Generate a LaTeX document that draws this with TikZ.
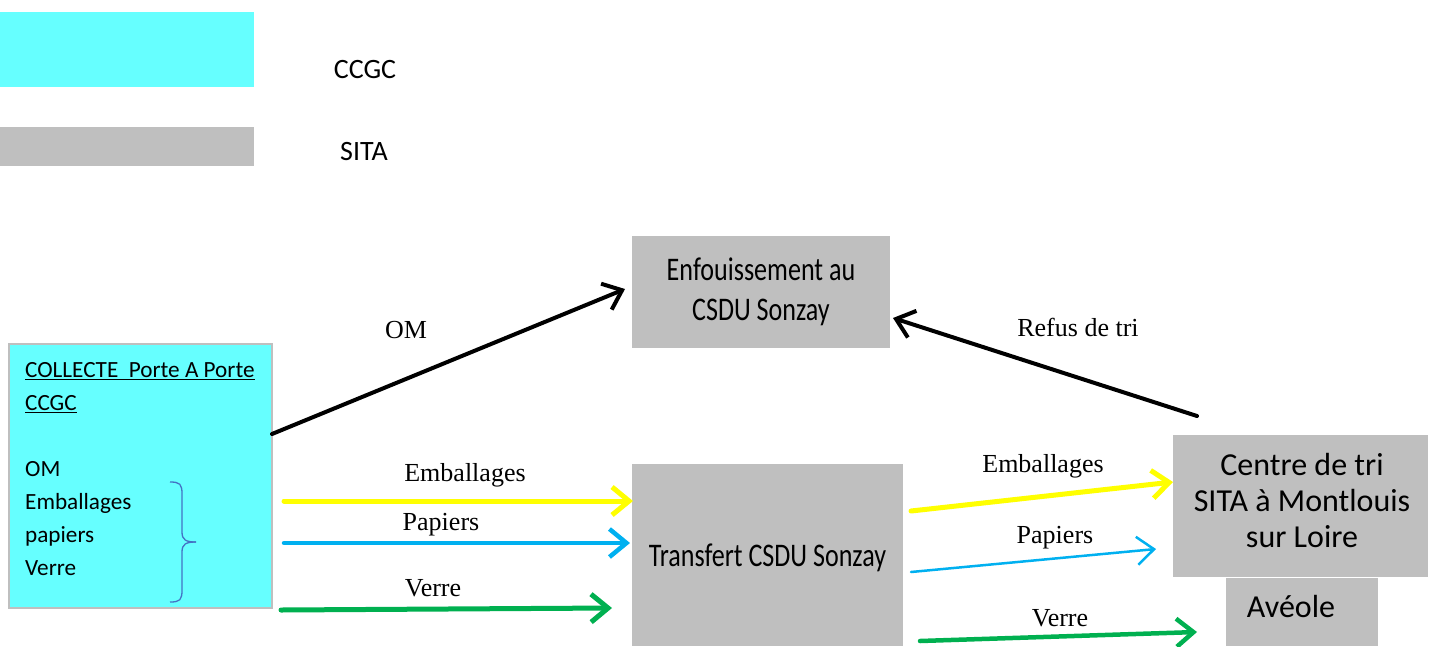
\documentclass[tikz,border=0pt]{standalone}
\usepackage{fontspec}
\usepackage{graphicx}
\setmainfont{Liberation Serif}
\newfontfamily\calfont{Carlito}
\usetikzlibrary{arrows.meta,calc}
\definecolor{cyanbox}{HTML}{66FFFF}
\definecolor{graybox}{HTML}{BFBFBF}
\definecolor{yel}{HTML}{FFFF00}
\definecolor{blu}{HTML}{00B0F0}
\definecolor{grn}{HTML}{00B050}
\definecolor{brace}{HTML}{4472C4}
\tikzset{
  box/.style={inner sep=0pt, outer sep=0pt, anchor=center},
  lbl/.style={inner sep=0pt, font=\fontsize{26}{30}\selectfont},
  tip/.style={-{Straight Barb[length=17pt,width=28pt]}},
  flow/.style={tip, line cap=round},
}
\begin{document}
\begin{tikzpicture}[x=1pt,y=-1pt]
\useasboundingbox (0,0) rectangle (1429,646);
% legend
\node[box, fill=cyanbox, minimum width=254pt, minimum height=75pt] (legC) at (127,49.5) {};
\node[box, fill=graybox, minimum width=254pt, minimum height=39pt] (legS) at (127,146.5) {};
\node[inner sep=0pt, font=\calfont\fontsize{28}{32}\selectfont] (legCt) at (365,70) {CCGC};
\node[inner sep=0pt, font=\calfont\fontsize{28}{32}\selectfont] (legSt) at (364,152) {SITA};
% boxes
\node[box, fill=cyanbox, draw=graybox, line width=1.5pt, minimum width=263pt, minimum height=264pt] (collect) at (140.5,476) {};
\node[inner sep=0pt, anchor=north west, align=left, font=\calfont\fontsize{23.2}{33}\selectfont] (collectT) at (25,362)
  {\underline{COLLECTE\ \ Porte A Porte}\\\underline{CCGC}\\[33pt]OM\\Emballages\\papiers\\Verre};
\node[box, fill=graybox, minimum width=258pt, minimum height=112pt, align=center, font=\calfont\fontsize{33}{40}\selectfont] (enfouis) at (761,292)
  {\scalebox{0.79}[1]{Enfouissement au}\\\scalebox{0.79}[1]{CSDU Sonzay}};
\node[box, fill=graybox, minimum width=271pt, minimum height=182pt] (transfert) at (767.5,555) {};
\node[inner sep=0pt, font=\calfont\fontsize{33}{40}\selectfont] (transfertT) at (767.5,558)
  {\scalebox{0.79}[1]{Transfert CSDU Sonzay}};
\node[box, fill=graybox, minimum width=255pt, minimum height=142pt] (centre) at (1300.5,506) {};
\node[inner sep=0pt, align=center, font=\calfont\fontsize{32}{36}\selectfont] (centreT) at (1302,500)
  {Centre de tri\\SITA à Montlouis\\sur Loire};
\node[box, fill=graybox, minimum width=152pt, minimum height=68pt] (aveole) at (1302,612) {};
\node[inner sep=0pt, font=\calfont\fontsize{32}{36}\selectfont] (aveoleT) at (1291,606) {Avéole};
% brace
\draw[brace, line width=1.3pt] (170,482) .. controls (180,482) and (182,484) .. (182,494) -- (182,532)
  .. controls (182,540) and (186,542) .. (196,542);
\draw[brace, line width=1.3pt] (170,602) .. controls (180,602) and (182,600) .. (182,590) -- (182,552)
  .. controls (182,544) and (186,542) .. (196,542);
% arrows
\draw[flow, black, line width=4pt] ([yshift=42pt]collect.east) -- ([xshift=-7pt,yshift=3pt]enfouis.west);
\draw[flow, black, line width=4pt] ([xshift=-103.5pt,yshift=19pt]centre.north) -- ([xshift=3pt,yshift=-26pt]enfouis.east);
\draw[flow, yel, line width=5pt] ([xshift=12pt,yshift=-25pt]collect.east) -- ([xshift=1pt,yshift=54pt]transfert.west);
\draw[flow, blu, line width=4.5pt] ([xshift=12pt,yshift=-67pt]collect.east) -- ([xshift=-2pt,yshift=12pt]transfert.west);
\draw[flow, grn, line width=5pt] ([xshift=9pt,yshift=-134pt]collect.east) -- ([xshift=-20pt,yshift=-53pt]transfert.west);
\draw[flow, yel, line width=5pt] ([xshift=8pt,yshift=44pt]transfert.east) -- ([yshift=24pt]centre.west);
\draw[tip, blu, line width=2.5pt, line cap=round] ([xshift=8pt,yshift=-17pt]transfert.east) -- ([xshift=-17pt,yshift=-43pt]centre.west);
\draw[flow, grn, line width=4.5pt] ([xshift=17pt,yshift=-86pt]transfert.east) -- ([xshift=-29pt,yshift=-20pt]aveole.west);
% labels
\node[lbl] (lOM) at (406,330) {OM};
\node[lbl] (lRefus) at (1078,327) {Refus de tri};
\node[lbl] (lEmb1) at (465,475) {Emballages};
\node[lbl] (lPap1) at (441,525) {Papiers};
\node[lbl] (lVer1) at (433,588) {Verre};
\node[lbl] (lEmb2) at (1043,466) {Emballages};
\node[lbl] (lPap2) at (1055,538) {Papiers};
\node[lbl] (lVer2) at (1060,618) {Verre};
\end{tikzpicture}
\end{document}
